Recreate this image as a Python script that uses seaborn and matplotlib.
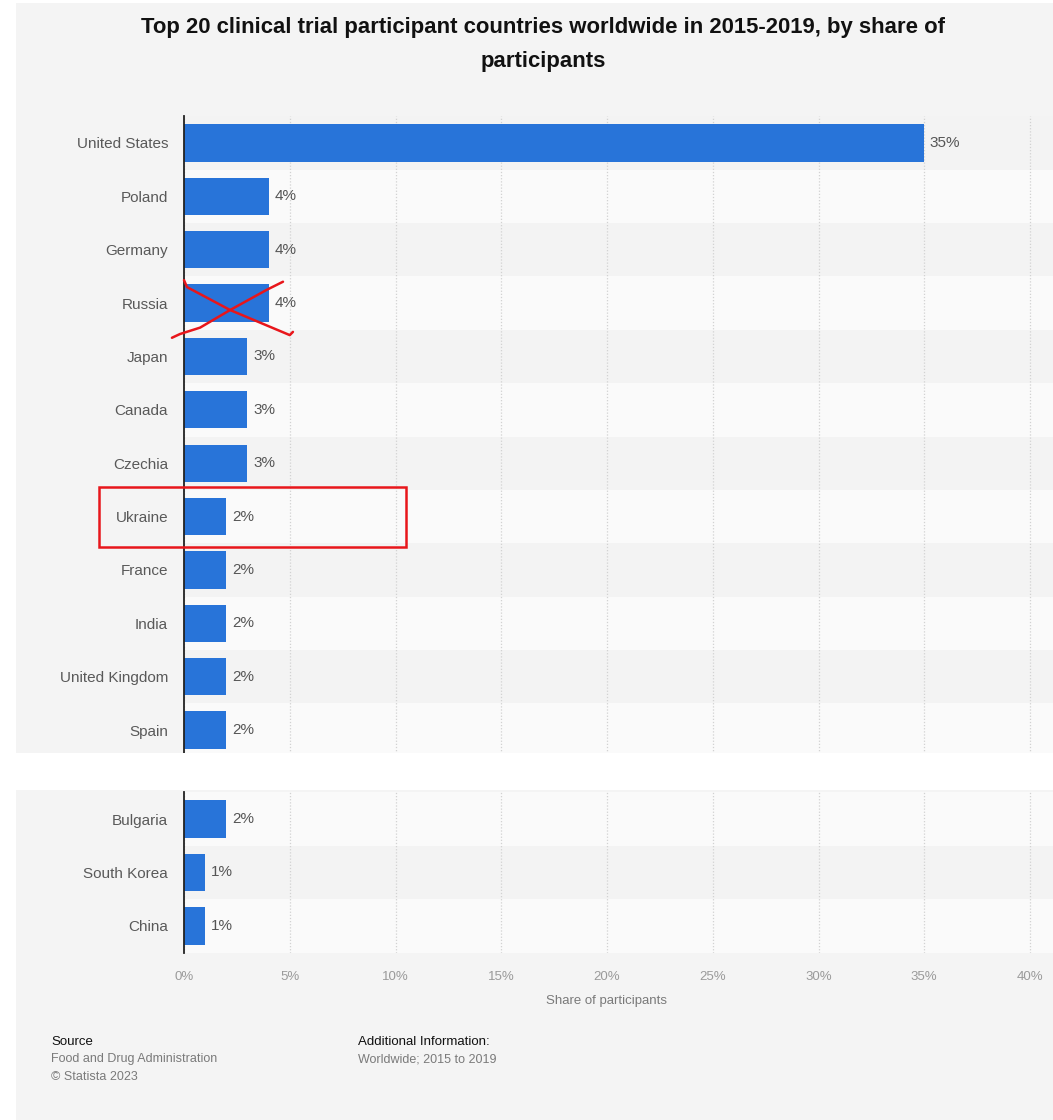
import matplotlib
matplotlib.use("Agg")
import matplotlib.pyplot as plt
import matplotlib.patches as patches
import seaborn as sns

# data (rows 13-17 were cut out of the original)
top_countries = ["United States", "Poland", "Germany", "Russia", "Japan", "Canada",
                 "Czechia", "Ukraine", "France", "India", "United Kingdom", "Spain"]
top_shares = [35, 4, 4, 4, 3, 3, 3, 2, 2, 2, 2, 2]
bottom_countries = ["Bulgaria", "South Korea", "China"]
bottom_shares = [2, 1, 1]
x_ticks = [0, 5, 10, 15, 20, 25, 30, 35, 40]

sns.set_theme(style="white")
plt.rcParams["font.family"] = ["Liberation Sans", "DejaVu Sans"]

W, H = 1053, 1120
fig = plt.figure(figsize=(W / 100, H / 100), dpi=100)
fig.patch.set_facecolor("white")
fig.add_artist(patches.Rectangle((16 / W, 0), 1 - 16 / W, 1 - 3 / H, transform=fig.transFigure,
                                 facecolor="#f4f4f4", edgecolor="none", zorder=-10))

BLUE = "#2874d9"
DARK, LIGHT = "#f3f3f3", "#fafafa"
XMAX = (W - 184) / 21.15


def axes_px(top, bottom):
    return fig.add_axes([184 / W, 1 - bottom / H, (W - 184) / W, (bottom - top) / H])


def draw(ax, countries, shares, first_dark):
    sns.barplot(x=shares, y=countries, color=BLUE, width=0.7, ax=ax, zorder=3,
                saturation=1, linewidth=0)
    for i in range(len(countries)):
        dark = (i % 2 == 0) == first_dark
        ax.axhspan(i - 0.5, i + 0.5, color=DARK if dark else LIGHT, zorder=0, lw=0)
    for t in x_ticks:
        ax.axvline(t, color="#d2d2d2", lw=0.9, ls=(0, (1, 1.5)), zorder=1)
    ax.bar_label(ax.containers[0], labels=[f"{v}%" for v in shares], padding=4,
                 fontsize=11, color="#555555")
    ax.set_xlim(0, XMAX)
    ax.set_facecolor("none")
    for s in ["top", "right", "bottom"]:
        ax.spines[s].set_visible(False)
    ax.spines["left"].set_color("#222222")
    ax.spines["left"].set_linewidth(1.3)
    ax.spines["left"].set_zorder(5)
    ax.tick_params(axis="y", length=0, pad=11.5, labelsize=11, labelcolor="#595959")
    ax.set_xlabel("")
    ax.set_ylabel("")


ax1 = axes_px(116.3, 756.7)
draw(ax1, top_countries, top_shares, True)
ax1.set_ylim(len(top_countries) - 0.5, -0.5)
ax1.set_xticks([])

ax2 = axes_px(792.3, 952.7)
draw(ax2, bottom_countries, bottom_shares, False)
ax2.set_ylim(len(bottom_countries) - 0.5, -0.5)
ax2.set_xticks(x_ticks)
ax2.set_xticklabels([f"{t}%" for t in x_ticks])
ax2.tick_params(axis="x", length=0, pad=13, labelsize=9.5, labelcolor="#9a9a9a")

# white gap of the cut screenshot
fig.add_artist(patches.Rectangle((0, 1 - 790 / H), 1, 37 / H, transform=fig.transFigure,
                                 facecolor="white", edgecolor="none", zorder=20))

# red hand-drawn marks: cross over Russia, box around Ukraine
ax1.plot([0, 0.14, 2.18, 5.0, 5.15], [2.57, 2.70, 3.13, 3.60, 3.54], color="#e8161b",
         lw=1.8, clip_on=False, zorder=10)
ax1.plot([-0.57, -0.19, 0.76, 2.18, 3.92, 4.68], [3.65, 3.58, 3.46, 3.13, 2.75, 2.60],
         color="#e8161b", lw=1.8, clip_on=False, zorder=10)
ax1.add_patch(patches.Rectangle((-4.02, 6.44), 14.52, 1.125, fill=False,
                                edgecolor="#e8161b", lw=1.8, clip_on=False, zorder=10))

fig.text(543 / W, 1 - 28 / H,
         "Top 20 clinical trial participant countries worldwide in 2015-2019, by share of",
         ha="center", va="center", fontsize=15.9, fontweight="bold", color="#111111")
fig.text(543 / W, 1 - 62 / H, "participants",
         ha="center", va="center", fontsize=15.9, fontweight="bold", color="#111111")
fig.text(607 / W, 1 - 1001 / H, "Share of participants", ha="center", va="center",
         fontsize=9.5, color="#7a7a7a")

fig.text(51 / W, 1 - 1042 / H, "Source", ha="left", va="center", fontsize=9.5, color="#111111")
fig.text(51 / W, 1 - 1059 / H, "Food and Drug Administration", ha="left", va="center",
         fontsize=9, color="#7a7a7a")
fig.text(51 / W, 1 - 1077 / H, "\u00a9 Statista 2023", ha="left", va="center",
         fontsize=9, color="#7a7a7a")
fig.text(358 / W, 1 - 1042 / H, "Additional Information:", ha="left", va="center",
         fontsize=9.5, color="#111111")
fig.text(358 / W, 1 - 1059 / H, "Worldwide; 2015 to 2019", ha="left", va="center",
         fontsize=9, color="#7a7a7a")

fig.savefig("out.png", dpi=100, facecolor=fig.get_facecolor())
